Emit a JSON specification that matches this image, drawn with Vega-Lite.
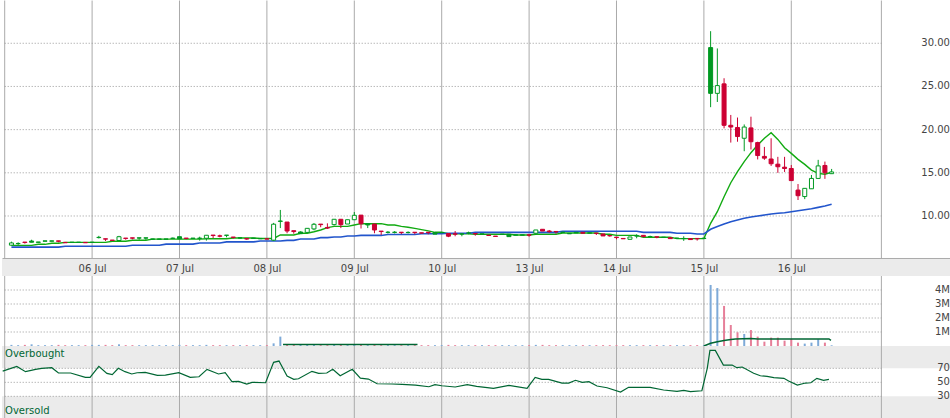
{
  "$schema": "https://vega.github.io/schema/vega-lite/v6.json",
  "padding": 0,
  "spacing": 0,
  "bounds": "flush",
  "background": "white",
  "config": {"view": {"stroke": null}, "font": "DejaVu Sans", "scale": {"continuousPadding": 0}},
  "datasets": {
    "cd": [
      {"t":1,"o":6.62,"h":7.03,"l":6.58,"c":6.88,"tr":"u","m1":6.6,"m2":6.4,"v":0.08},
      {"t":2,"o":6.8,"h":6.95,"l":6.65,"c":6.82,"tr":"u","m1":6.6,"m2":6.4,"v":0.06},
      {"t":3,"o":6.98,"h":6.98,"l":6.8,"c":6.93,"tr":"d","m1":6.6,"m2":6.4,"v":0.08},
      {"t":4,"o":7.1,"h":7.25,"l":6.96,"c":6.96,"tr":"u","m1":6.6,"m2":6.4,"v":0.12},
      {"t":5,"o":6.99,"h":6.99,"l":6.95,"c":6.95,"tr":"u","m1":6.72,"m2":6.4,"v":0.06},
      {"t":6,"o":7.12,"h":7.12,"l":7.08,"c":7.08,"tr":"u","m1":6.72,"m2":6.4,"v":0.06},
      {"t":7,"o":7.12,"h":7.12,"l":7.08,"c":7.08,"tr":"u","m1":6.84,"m2":6.4,"v":0.06},
      {"t":8,"o":7.12,"h":7.12,"l":6.95,"c":7.07,"tr":"d","m1":6.84,"m2":6.4,"v":0.08},
      {"t":9,"o":6.94,"h":6.94,"l":6.9,"c":6.9,"tr":"d","m1":6.95,"m2":6.5,"v":0.06},
      {"t":10,"o":6.97,"h":6.97,"l":6.93,"c":6.93,"tr":"u","m1":6.95,"m2":6.5,"v":0.06},
      {"t":11,"o":6.97,"h":6.97,"l":6.93,"c":6.93,"tr":"u","m1":6.95,"m2":6.5,"v":0.06},
      {"t":12,"o":6.94,"h":6.94,"l":6.9,"c":6.9,"tr":"d","m1":6.95,"m2":6.5,"v":0.06},
      {"t":13,"o":6.97,"h":6.97,"l":6.93,"c":6.93,"tr":"u","m1":6.95,"m2":6.5,"v":0.08},
      {"t":14,"o":7.5,"h":7.7,"l":7.4,"c":7.53,"tr":"u","m1":6.95,"m2":6.5,"v":0.08},
      {"t":15,"o":7.36,"h":7.36,"l":7.1,"c":7.32,"tr":"d","m1":6.95,"m2":6.5,"v":0.08},
      {"t":16,"o":7.21,"h":7.21,"l":7.17,"c":7.17,"tr":"d","m1":7.07,"m2":6.5,"v":0.06},
      {"t":17,"o":7.16,"h":7.7,"l":7.16,"c":7.6,"tr":"u","m1":7.07,"m2":6.5,"v":0.12},
      {"t":18,"o":7.44,"h":7.44,"l":7.25,"c":7.4,"tr":"d","m1":7.07,"m2":6.5,"v":0.06},
      {"t":19,"o":7.47,"h":7.47,"l":7.3,"c":7.43,"tr":"d","m1":7.19,"m2":6.62,"v":0.06},
      {"t":20,"o":7.47,"h":7.47,"l":7.25,"c":7.44,"tr":"u","m1":7.19,"m2":6.62,"v":0.06},
      {"t":21,"o":7.47,"h":7.47,"l":7.25,"c":7.44,"tr":"u","m1":7.19,"m2":6.62,"v":0.06},
      {"t":22,"o":7.34,"h":7.34,"l":7.3,"c":7.3,"tr":"u","m1":7.32,"m2":6.62,"v":0.06},
      {"t":23,"o":7.34,"h":7.34,"l":7.3,"c":7.3,"tr":"u","m1":7.32,"m2":6.62,"v":0.06},
      {"t":24,"o":7.34,"h":7.34,"l":7.3,"c":7.3,"tr":"u","m1":7.32,"m2":6.74,"v":0.06},
      {"t":25,"o":7.43,"h":7.5,"l":7.35,"c":7.41,"tr":"u","m1":7.32,"m2":6.74,"v":0.06},
      {"t":26,"o":7.6,"h":7.6,"l":7.36,"c":7.36,"tr":"u","m1":7.32,"m2":6.74,"v":0.08},
      {"t":27,"o":7.44,"h":7.44,"l":7.3,"c":7.4,"tr":"d","m1":7.32,"m2":6.74,"v":0.06},
      {"t":28,"o":7.44,"h":7.44,"l":7.4,"c":7.4,"tr":"u","m1":7.32,"m2":6.74,"v":0.06},
      {"t":29,"o":7.43,"h":7.6,"l":7.15,"c":7.41,"tr":"u","m1":7.32,"m2":6.88,"v":0.06},
      {"t":30,"o":7.42,"h":7.77,"l":7.15,"c":7.77,"tr":"u","m1":7.37,"m2":6.88,"v":0.08},
      {"t":31,"o":7.79,"h":7.79,"l":7.45,"c":7.74,"tr":"d","m1":7.37,"m2":6.88,"v":0.06},
      {"t":32,"o":7.7,"h":7.84,"l":7.53,"c":7.66,"tr":"d","m1":7.37,"m2":6.88,"v":0.06},
      {"t":33,"o":7.78,"h":7.78,"l":7.53,"c":7.76,"tr":"u","m1":7.37,"m2":7.0,"v":0.06},
      {"t":34,"o":7.56,"h":7.56,"l":7.38,"c":7.52,"tr":"d","m1":7.45,"m2":7.0,"v":0.06},
      {"t":35,"o":7.47,"h":7.56,"l":7.35,"c":7.45,"tr":"u","m1":7.45,"m2":7.0,"v":0.06},
      {"t":36,"o":7.4,"h":7.4,"l":7.25,"c":7.33,"tr":"d","m1":7.45,"m2":7.0,"v":0.06},
      {"t":37,"o":7.44,"h":7.44,"l":7.4,"c":7.4,"tr":"u","m1":7.45,"m2":7.0,"v":0.06},
      {"t":38,"o":7.4,"h":7.4,"l":7.37,"c":7.37,"tr":"u","m1":7.4,"m2":7.1,"v":0.06},
      {"t":39,"o":7.36,"h":7.36,"l":7.33,"c":7.33,"tr":"d","m1":7.4,"m2":7.1,"v":0.06},
      {"t":40,"o":7.2,"h":9.2,"l":7.1,"c":9.05,"tr":"u","m1":7.4,"m2":7.1,"v":0.19},
      {"t":41,"o":9.42,"h":10.7,"l":8.6,"c":9.38,"tr":"u","m1":7.8,"m2":7.1,"v":0.67},
      {"t":42,"o":9.3,"h":9.3,"l":8.0,"c":8.26,"tr":"d","m1":7.8,"m2":7.18,"v":0.1},
      {"t":43,"o":8.3,"h":8.3,"l":7.95,"c":8.2,"tr":"d","m1":7.8,"m2":7.18,"v":0.08},
      {"t":44,"o":8.15,"h":8.22,"l":7.95,"c":7.95,"tr":"u","m1":8.0,"m2":7.34,"v":0.08},
      {"t":45,"o":8.1,"h":8.6,"l":8.1,"c":8.57,"tr":"u","m1":8.0,"m2":7.34,"v":0.08},
      {"t":46,"o":8.5,"h":9.19,"l":8.35,"c":9.04,"tr":"u","m1":8.18,"m2":7.34,"v":0.08},
      {"t":47,"o":9.06,"h":9.06,"l":8.7,"c":9.0,"tr":"d","m1":8.38,"m2":7.49,"v":0.06},
      {"t":48,"o":8.67,"h":9.15,"l":8.5,"c":8.6,"tr":"d","m1":8.65,"m2":7.49,"v":0.06},
      {"t":49,"o":9.0,"h":9.62,"l":8.9,"c":9.62,"tr":"u","m1":8.8,"m2":7.57,"v":0.08},
      {"t":50,"o":9.62,"h":9.62,"l":8.6,"c":9.0,"tr":"d","m1":8.8,"m2":7.57,"v":0.08},
      {"t":51,"o":9.07,"h":9.57,"l":9.07,"c":9.57,"tr":"u","m1":8.8,"m2":7.69,"v":0.06},
      {"t":52,"o":9.57,"h":10.46,"l":9.57,"c":10.08,"tr":"u","m1":8.96,"m2":7.69,"v":0.1},
      {"t":53,"o":10.1,"h":10.12,"l":8.55,"c":9.1,"tr":"d","m1":9.11,"m2":7.75,"v":0.08},
      {"t":54,"o":9.11,"h":9.11,"l":8.6,"c":8.96,"tr":"u","m1":9.11,"m2":7.75,"v":0.06},
      {"t":55,"o":9.07,"h":9.07,"l":8.0,"c":8.38,"tr":"d","m1":9.11,"m2":7.75,"v":0.08},
      {"t":56,"o":8.25,"h":8.25,"l":7.8,"c":8.2,"tr":"d","m1":9.11,"m2":7.75,"v":0.06},
      {"t":57,"o":8.12,"h":8.25,"l":7.98,"c":8.1,"tr":"u","m1":8.96,"m2":7.85,"v":0.06},
      {"t":58,"o":8.12,"h":8.25,"l":7.98,"c":8.1,"tr":"u","m1":8.96,"m2":7.85,"v":0.06},
      {"t":59,"o":8.12,"h":8.12,"l":7.9,"c":8.08,"tr":"d","m1":8.8,"m2":7.85,"v":0.06},
      {"t":60,"o":8.1,"h":8.22,"l":7.98,"c":8.08,"tr":"u","m1":8.69,"m2":7.85,"v":0.06},
      {"t":61,"o":8.12,"h":8.12,"l":7.88,"c":8.08,"tr":"d","m1":8.57,"m2":7.85,"v":0.06},
      {"t":62,"o":8.05,"h":8.05,"l":8.02,"c":8.02,"tr":"d","m1":8.42,"m2":7.95,"v":0.06},
      {"t":63,"o":8.12,"h":8.12,"l":7.88,"c":8.08,"tr":"d","m1":8.27,"m2":7.95,"v":0.06},
      {"t":64,"o":8.08,"h":8.1,"l":7.9,"c":7.9,"tr":"u","m1":8.11,"m2":7.95,"v":0.06},
      {"t":65,"o":8.09,"h":8.09,"l":8.06,"c":8.06,"tr":"u","m1":8.11,"m2":7.95,"v":0.06},
      {"t":66,"o":7.97,"h":7.97,"l":7.55,"c":7.66,"tr":"d","m1":7.95,"m2":8.0,"v":0.08},
      {"t":67,"o":7.93,"h":8.26,"l":7.65,"c":7.89,"tr":"d","m1":7.95,"m2":8.0,"v":0.06},
      {"t":68,"o":7.93,"h":7.93,"l":7.65,"c":7.91,"tr":"u","m1":7.95,"m2":8.0,"v":0.06},
      {"t":69,"o":8.04,"h":8.19,"l":7.88,"c":8.02,"tr":"u","m1":7.95,"m2":8.0,"v":0.06},
      {"t":70,"o":7.97,"h":7.97,"l":7.72,"c":7.93,"tr":"d","m1":7.88,"m2":8.1,"v":0.06},
      {"t":71,"o":7.93,"h":7.93,"l":7.9,"c":7.9,"tr":"u","m1":7.88,"m2":8.1,"v":0.06},
      {"t":72,"o":7.78,"h":7.78,"l":7.74,"c":7.74,"tr":"d","m1":7.88,"m2":8.1,"v":0.06},
      {"t":73,"o":7.67,"h":7.67,"l":7.63,"c":7.63,"tr":"d","m1":7.88,"m2":8.1,"v":0.06},
      {"t":74,"o":7.9,"h":7.9,"l":7.86,"c":7.86,"tr":"u","m1":7.88,"m2":8.1,"v":0.06},
      {"t":75,"o":7.88,"h":7.9,"l":7.61,"c":7.61,"tr":"u","m1":7.88,"m2":8.1,"v":0.06},
      {"t":76,"o":7.82,"h":7.82,"l":7.78,"c":7.78,"tr":"u","m1":7.8,"m2":8.1,"v":0.06},
      {"t":77,"o":7.82,"h":7.82,"l":7.78,"c":7.78,"tr":"u","m1":7.8,"m2":8.1,"v":0.06},
      {"t":78,"o":7.82,"h":7.82,"l":7.6,"c":7.78,"tr":"d","m1":7.8,"m2":8.1,"v":0.06},
      {"t":79,"o":8.0,"h":8.38,"l":7.8,"c":8.38,"tr":"u","m1":7.88,"m2":8.1,"v":0.08},
      {"t":80,"o":8.46,"h":8.46,"l":8.26,"c":8.26,"tr":"d","m1":7.88,"m2":8.1,"v":0.08},
      {"t":81,"o":8.26,"h":8.38,"l":8.07,"c":8.19,"tr":"d","m1":7.88,"m2":8.1,"v":0.06},
      {"t":82,"o":8.21,"h":8.21,"l":7.96,"c":8.17,"tr":"d","m1":7.88,"m2":8.1,"v":0.06},
      {"t":83,"o":8.12,"h":8.12,"l":8.1,"c":8.1,"tr":"u","m1":8.03,"m2":8.23,"v":0.06},
      {"t":84,"o":7.98,"h":7.98,"l":7.94,"c":7.94,"tr":"u","m1":8.03,"m2":8.23,"v":0.06},
      {"t":85,"o":8.11,"h":8.11,"l":8.04,"c":8.04,"tr":"u","m1":8.03,"m2":8.23,"v":0.06},
      {"t":86,"o":8.11,"h":8.11,"l":8.0,"c":8.0,"tr":"d","m1":8.03,"m2":8.23,"v":0.06},
      {"t":87,"o":8.05,"h":8.05,"l":8.01,"c":8.01,"tr":"u","m1":8.03,"m2":8.23,"v":0.06},
      {"t":88,"o":8.02,"h":8.02,"l":7.8,"c":7.98,"tr":"d","m1":8.03,"m2":8.23,"v":0.06},
      {"t":89,"o":7.92,"h":7.92,"l":7.69,"c":7.69,"tr":"d","m1":7.88,"m2":8.23,"v":0.06},
      {"t":90,"o":7.74,"h":7.74,"l":7.6,"c":7.7,"tr":"d","m1":7.88,"m2":8.23,"v":0.06},
      {"t":91,"o":7.55,"h":7.55,"l":7.3,"c":7.5,"tr":"d","m1":7.76,"m2":8.23,"v":0.06},
      {"t":92,"o":7.4,"h":7.4,"l":7.36,"c":7.36,"tr":"d","m1":7.76,"m2":8.23,"v":0.06},
      {"t":93,"o":7.3,"h":7.57,"l":7.3,"c":7.57,"tr":"u","m1":7.76,"m2":8.23,"v":0.06},
      {"t":94,"o":7.7,"h":7.88,"l":7.42,"c":7.68,"tr":"u","m1":7.76,"m2":8.23,"v":0.06},
      {"t":95,"o":7.76,"h":7.76,"l":7.61,"c":7.61,"tr":"d","m1":7.53,"m2":8.1,"v":0.06},
      {"t":96,"o":7.62,"h":7.72,"l":7.5,"c":7.6,"tr":"u","m1":7.53,"m2":8.1,"v":0.06},
      {"t":97,"o":7.59,"h":7.59,"l":7.42,"c":7.55,"tr":"d","m1":7.53,"m2":8.1,"v":0.06},
      {"t":98,"o":7.55,"h":7.55,"l":7.51,"c":7.51,"tr":"u","m1":7.53,"m2":8.1,"v":0.06},
      {"t":99,"o":7.49,"h":7.49,"l":7.38,"c":7.38,"tr":"d","m1":7.53,"m2":8.1,"v":0.06},
      {"t":100,"o":7.43,"h":7.5,"l":7.35,"c":7.41,"tr":"u","m1":7.38,"m2":8.0,"v":0.06},
      {"t":101,"o":7.4,"h":7.65,"l":7.12,"c":7.38,"tr":"u","m1":7.38,"m2":8.0,"v":0.06},
      {"t":102,"o":7.38,"h":7.38,"l":7.27,"c":7.27,"tr":"d","m1":7.38,"m2":8.0,"v":0.06},
      {"t":103,"o":7.4,"h":7.4,"l":7.15,"c":7.36,"tr":"d","m1":7.38,"m2":7.92,"v":0.06},
      {"t":104,"o":7.43,"h":7.43,"l":7.39,"c":7.39,"tr":"u","m1":7.38,"m2":7.92,"v":0.06},
      {"t":105,"o":29.5,"h":31.4,"l":22.6,"c":24.2,"tr":"u","m1":9.15,"m2":8.46,"v":4.36},
      {"t":106,"o":24.2,"h":29.4,"l":23.2,"c":25.1,"tr":"u","m1":10.5,"m2":8.77,"v":4.14},
      {"t":107,"o":25.3,"h":25.95,"l":20.15,"c":20.5,"tr":"d","m1":12.23,"m2":9.07,"v":2.86},
      {"t":108,"o":20.5,"h":21.7,"l":18.5,"c":20.3,"tr":"d","m1":13.85,"m2":9.34,"v":1.5},
      {"t":109,"o":20.25,"h":21.4,"l":18.6,"c":19.2,"tr":"d","m1":15.13,"m2":9.54,"v":0.98},
      {"t":110,"o":19.0,"h":20.6,"l":17.5,"c":20.3,"tr":"u","m1":16.29,"m2":9.73,"v":0.86},
      {"t":111,"o":20.2,"h":21.5,"l":17.7,"c":18.6,"tr":"d","m1":17.33,"m2":9.88,"v":1.14},
      {"t":112,"o":18.5,"h":18.6,"l":16.55,"c":17.0,"tr":"d","m1":18.22,"m2":10.0,"v":0.67},
      {"t":113,"o":16.9,"h":18.0,"l":16.5,"c":16.7,"tr":"d","m1":19.0,"m2":10.11,"v":0.31},
      {"t":114,"o":16.6,"h":19.0,"l":15.8,"c":16.05,"tr":"d","m1":19.64,"m2":10.23,"v":0.6},
      {"t":115,"o":16.0,"h":16.85,"l":15.0,"c":15.7,"tr":"d","m1":18.87,"m2":10.31,"v":0.6},
      {"t":116,"o":15.65,"h":16.85,"l":15.1,"c":15.5,"tr":"d","m1":17.9,"m2":10.38,"v":0.38},
      {"t":117,"o":15.5,"h":15.9,"l":14.05,"c":14.1,"tr":"d","m1":17.25,"m2":10.5,"v":0.5},
      {"t":118,"o":13.0,"h":13.7,"l":11.85,"c":12.35,"tr":"d","m1":16.56,"m2":10.61,"v":0.24},
      {"t":119,"o":12.25,"h":13.2,"l":11.95,"c":13.2,"tr":"u","m1":15.98,"m2":10.73,"v":0.17},
      {"t":120,"o":13.15,"h":14.75,"l":13.15,"c":14.35,"tr":"u","m1":15.32,"m2":10.84,"v":0.24},
      {"t":121,"o":14.35,"h":16.5,"l":14.35,"c":15.8,"tr":"u","m1":14.94,"m2":11.0,"v":0.48},
      {"t":122,"o":15.85,"h":16.3,"l":14.3,"c":15.0,"tr":"d","m1":14.83,"m2":11.15,"v":0.24},
      {"t":123,"o":14.9,"h":15.45,"l":14.9,"c":15.1,"tr":"u","m1":15.06,"m2":11.35,"v":0.05}
    ],
    "rsi": [
      {"t":-0.3,"r":66},{"t":1.8,"r":72.8},{"t":3.1,"r":65.2},{"t":4.6,"r":68.5},{"t":5.5,"r":70},{"t":7,"r":70.9},{"t":8,"r":63.3},{"t":9.8,"r":63.3},{"t":12,"r":57.1},{"t":12.7,"r":57.1},
      {"t":14,"r":72.8},{"t":15.2,"r":62.8},{"t":16,"r":60.9},{"t":16.9,"r":70},{"t":17.9,"r":65.2},{"t":18.9,"r":61.9},{"t":19.7,"r":63.7},{"t":20.9,"r":64.3},{"t":22.7,"r":60},{"t":23.9,"r":60.4},
      {"t":25.9,"r":63.7},{"t":27.6,"r":57.1},{"t":28.9,"r":58},{"t":30.1,"r":68.5},{"t":31.8,"r":61.9},{"t":32.8,"r":63.7},{"t":33.8,"r":50.9},{"t":34.8,"r":51.4},{"t":36,"r":47.6},{"t":36.8,"r":50},
      {"t":38.8,"r":49.4},{"t":40,"r":78.6},{"t":40.8,"r":80.4},{"t":42,"r":59},{"t":43,"r":54.3},{"t":43.7,"r":55.1},{"t":45.7,"r":65.7},{"t":46.7,"r":62.9},{"t":47.9,"r":63.3},{"t":48.8,"r":68.6},
      {"t":49.9,"r":59.4},{"t":51.7,"r":68.6},{"t":52.9,"r":56.1},{"t":54.1,"r":54.7},{"t":55.4,"r":48},{"t":57.6,"r":47.6},{"t":59.1,"r":47.1},{"t":61.1,"r":46.1},{"t":63.1,"r":43.7},{"t":64,"r":46.6},
      {"t":65,"r":45.1},{"t":67,"r":43.3},{"t":68.8,"r":46.6},{"t":70.2,"r":44.3},{"t":72.7,"r":41.4},{"t":75,"r":45.7},{"t":77.7,"r":41.4},{"t":78.9,"r":57.1},{"t":79.9,"r":54.3},{"t":80.9,"r":54.3},
      {"t":82.9,"r":49},{"t":83.9,"r":49},{"t":84.9,"r":52.9},{"t":85.9,"r":50},{"t":86.9,"r":50.9},{"t":88.1,"r":44.7},{"t":89.6,"r":42.3},{"t":91.6,"r":36.1},{"t":92.8,"r":42.9},{"t":96,"r":42.9},
      {"t":98,"r":39},{"t":100,"r":37.1},{"t":101,"r":38.6},{"t":102,"r":36.6},{"t":103.7,"r":38},{"t":104.5,"r":70},{"t":104.9,"r":95.7},{"t":105.7,"r":95.7},{"t":106.9,"r":74.7},{"t":108.2,"r":74.7},
      {"t":108.9,"r":70.9},{"t":109.7,"r":71.9},{"t":111.4,"r":62.9},{"t":112.4,"r":59.4},{"t":113.4,"r":58.6},{"t":114.4,"r":56.6},{"t":115.9,"r":55.7},{"t":116.6,"r":51.9},{"t":117.9,"r":46.1},{"t":119.1,"r":49},
      {"t":119.9,"r":49.4},{"t":120.8,"r":55.7},{"t":121.8,"r":52.9},{"t":122.6,"r":54.3}
    ],
    "vma": [
      {"s":"a","t":41.4,"m":0.11},{"s":"a","t":61.4,"m":0.11},
      {"s":"b","t":104,"m":0.0},{"s":"b","t":105,"m":0.19},{"s":"b","t":106,"m":0.31},{"s":"b","t":107,"m":0.4},{"s":"b","t":108,"m":0.47},{"s":"b","t":108.7,"m":0.5},{"s":"b","t":111,"m":0.53},{"s":"b","t":112,"m":0.5},{"s":"b","t":122.6,"m":0.5},{"s":"b","t":122.9,"m":0.4}
    ],
    "vg": [{"t":0},{"t":13},{"t":26},{"t":39},{"t":52},{"t":65},{"t":78},{"t":91},{"t":104},{"t":117},{"t":130.4}]
  },
  "vconcat": [
    {
      "width": 950, "height": 259,
      "layer": [
        {"data": {"name": "vg"}, "mark": {"type": "rule", "color": "#aaaaaa", "strokeWidth": 1},
         "encoding": {"x": {"field": "t", "type": "quantitative", "scale": {"domain": [-0.4016, 140.904], "nice": false, "zero": false, "padding": 0}, "axis": null},
                      "y": {"datum": 34.95, "type": "quantitative", "scale": {"domain": [5.02, 35.01], "nice": false, "zero": false, "padding": 0}, "axis": null},
                      "y2": {"datum": 5.02}}},
        {"data": {"values": [{"p":10},{"p":15},{"p":20},{"p":25},{"p":30}]}, "mark": {"type": "rule", "color": "#999999", "strokeWidth": 1, "strokeDash": [1, 2]},
         "encoding": {
           "y": {"field": "p", "type": "quantitative", "scale": {"domain": [5.02, 35.01], "nice": false, "zero": false, "padding": 0}, "axis": null},
           "x": {"datum": 0, "type": "quantitative", "scale": {"domain": [-0.4016, 140.904], "nice": false, "zero": false, "padding": 0}, "axis": null},
           "x2": {"datum": 130.4}}},
        {"data": {"values": [{}]}, "mark": {"type": "rule", "color": "#aaaaaa", "strokeWidth": 1},
         "encoding": {
           "y": {"datum": 5.078, "type": "quantitative", "scale": {"domain": [5.02, 35.01], "nice": false, "zero": false, "padding": 0}, "axis": null},
           "x": {"datum": -0.3272, "type": "quantitative", "scale": {"domain": [-0.4016, 140.904], "nice": false, "zero": false, "padding": 0}, "axis": null},
           "x2": {"datum": 140.8296}}},
        {"data": {"values": [{"p":10},{"p":15},{"p":20},{"p":25},{"p":30}]}, "mark": {"type": "text", "align": "right", "baseline": "middle", "color": "#444444", "fontSize": 10, "font": "DejaVu Sans"},
         "encoding": {
           "y": {"field": "p", "type": "quantitative", "scale": {"domain": [5.02, 35.01], "nice": false, "zero": false, "padding": 0}, "axis": null},
           "x": {"datum": 140.6, "type": "quantitative", "scale": {"domain": [-0.4016, 140.904], "nice": false, "zero": false, "padding": 0}, "axis": null},
           "text": {"field": "p", "type": "quantitative", "format": ".2f"}}},
        {"data": {"name": "cd"}, "mark": {"type": "line", "color": "#11aa11", "strokeWidth": 1.4},
         "encoding": {"x": {"field": "t", "type": "quantitative", "scale": {"domain": [-0.4016, 140.904], "nice": false, "zero": false, "padding": 0}, "axis": null},
                      "y": {"field": "m1", "type": "quantitative", "scale": {"domain": [5.02, 35.01], "nice": false, "zero": false, "padding": 0}, "axis": null}}},
        {"data": {"name": "cd"}, "mark": {"type": "line", "color": "#2255cc", "strokeWidth": 1.6},
         "encoding": {"x": {"field": "t", "type": "quantitative", "scale": {"domain": [-0.4016, 140.904], "nice": false, "zero": false, "padding": 0}, "axis": null},
                      "y": {"field": "m2", "type": "quantitative", "scale": {"domain": [5.02, 35.01], "nice": false, "zero": false, "padding": 0}, "axis": null}}},
        {"data": {"name": "cd"}, "mark": {"type": "rule", "strokeWidth": 1},
         "encoding": {"x": {"field": "t", "type": "quantitative", "scale": {"domain": [-0.4016, 140.904], "nice": false, "zero": false, "padding": 0}, "axis": null},
                      "y": {"field": "l", "type": "quantitative", "scale": {"domain": [5.02, 35.01], "nice": false, "zero": false, "padding": 0}, "axis": null},
                      "y2": {"field": "h"},
                      "color": {"condition": {"test": "datum.tr == 'u'", "value": "#009922"}, "value": "#cc0033"}}},
        {"data": {"name": "cd"}, "mark": {"type": "bar", "width": 4, "strokeWidth": 1, "orient": "vertical"},
         "encoding": {"x": {"field": "t", "type": "quantitative", "scale": {"domain": [-0.4016, 140.904], "nice": false, "zero": false, "padding": 0}, "axis": null},
                      "y": {"field": "o", "type": "quantitative", "scale": {"domain": [5.02, 35.01], "nice": false, "zero": false, "padding": 0}, "axis": null},
                      "y2": {"field": "c"},
                      "fill": {"condition": [{"test": "datum.c > datum.o", "value": "#ffffff"}, {"test": "datum.tr == 'u'", "value": "#009922"}], "value": "#cc0033"},
                      "stroke": {"condition": {"test": "datum.tr == 'u'", "value": "#009922"}, "value": "#cc0033"}}}
      ]
    },
    {
      "width": 950, "height": 17,
      "view": {"fill": "#ebebeb", "stroke": null},
      "data": {"values": [{"t": 130.4}]},
      "mark": {"type": "rule", "opacity": 0},
      "encoding": {
        "x": {"field": "t", "type": "quantitative", "scale": {"domain": [-0.4016, 140.904], "nice": false, "zero": false, "padding": 0},
              "axis": {"orient": "bottom", "offset": -17, "values": [13,26,39,52,65,78,91,104,117],
                       "labelExpr": "['06 Jul','07 Jul','08 Jul','09 Jul','10 Jul','13 Jul','14 Jul','15 Jul','16 Jul'][round(datum.value/13)-1]",
                       "ticks": false, "grid": false, "domain": false,
                       "labelPadding": 4, "labelBaseline": "top", "labelFlush": false, "labelOverlap": false, "title": null,
                       "labelColor": "#444444", "labelFontSize": 10, "labelFont": "DejaVu Sans"}}
      }
    },
    {
      "width": 950, "height": 70,
      "layer": [
        {"data": {"name": "vg"}, "mark": {"type": "rule", "color": "#aaaaaa", "strokeWidth": 1},
         "encoding": {"x": {"field": "t", "type": "quantitative", "scale": {"domain": [-0.4016, 140.904], "nice": false, "zero": false, "padding": 0}, "axis": null}}},
        {"data": {"values": [{"p":1,"lab":"1M"},{"p":2,"lab":"2M"},{"p":3,"lab":"3M"},{"p":4,"lab":"4M"}]}, "mark": {"type": "rule", "color": "#999999", "strokeWidth": 1, "strokeDash": [1, 2]},
         "encoding": {
           "y": {"field": "p", "type": "quantitative", "scale": {"domain": [0, 5], "nice": false, "zero": false, "padding": 0}, "axis": null},
           "x": {"datum": 0, "type": "quantitative", "scale": {"domain": [-0.4016, 140.904], "nice": false, "zero": false, "padding": 0}, "axis": null},
           "x2": {"datum": 130.4}}},
        {"data": {"values": [{"p":1,"lab":"1M"},{"p":2,"lab":"2M"},{"p":3,"lab":"3M"},{"p":4,"lab":"4M"}]}, "mark": {"type": "text", "align": "right", "baseline": "middle", "color": "#444444", "fontSize": 10, "font": "DejaVu Sans"},
         "encoding": {
           "y": {"field": "p", "type": "quantitative", "scale": {"domain": [0, 5], "nice": false, "zero": false, "padding": 0}, "axis": null},
           "x": {"datum": 140.6, "type": "quantitative", "scale": {"domain": [-0.4016, 140.904], "nice": false, "zero": false, "padding": 0}, "axis": null},
           "text": {"field": "lab", "type": "nominal"}}},
        {"data": {"name": "cd"}, "mark": {"type": "bar", "width": 2, "orient": "vertical"},
         "encoding": {"x": {"field": "t", "type": "quantitative", "scale": {"domain": [-0.4016, 140.904], "nice": false, "zero": false, "padding": 0}, "axis": null},
                      "y": {"field": "v", "type": "quantitative", "scale": {"domain": [0, 5], "nice": false, "zero": false, "padding": 0}, "axis": null},
                      "y2": {"datum": 0},
                      "color": {"condition": {"test": "datum.tr == 'u'", "value": "#7eaad8"}, "value": "#e67f99"}}},
        {"data": {"name": "vma"}, "mark": {"type": "line", "color": "#006633", "strokeWidth": 1.5},
         "encoding": {"x": {"field": "t", "type": "quantitative", "scale": {"domain": [-0.4016, 140.904], "nice": false, "zero": false, "padding": 0}, "axis": null},
                      "y": {"field": "m", "type": "quantitative", "scale": {"domain": [0, 5], "nice": false, "zero": false, "padding": 0}, "axis": null},
                      "detail": {"field": "s", "type": "nominal"}}}
      ]
    },
    {
      "width": 950, "height": 72,
      "layer": [
        {"data": {"values": [{"a": 70, "b": 101.9}, {"a": -0.96, "b": 30}]}, "mark": {"type": "rect", "color": "#ebebeb"},
         "encoding": {"x": {"datum": -0.4016, "type": "quantitative", "scale": {"domain": [-0.4016, 140.904], "nice": false, "zero": false, "padding": 0}, "axis": null},
                      "x2": {"datum": 140.904},
                      "y": {"field": "a", "type": "quantitative", "scale": {"domain": [-0.96, 101.9], "nice": false, "zero": false, "padding": 0}, "axis": null},
                      "y2": {"field": "b"}}},
        {"data": {"name": "vg"}, "mark": {"type": "rule", "color": "#aaaaaa", "strokeWidth": 1},
         "encoding": {"x": {"field": "t", "type": "quantitative", "scale": {"domain": [-0.4016, 140.904], "nice": false, "zero": false, "padding": 0}, "axis": null}}},
        {"data": {"values": [{"p":30},{"p":50},{"p":70}]}, "mark": {"type": "rule", "color": "#999999", "strokeWidth": 1, "strokeDash": [1, 2]},
         "encoding": {
           "y": {"field": "p", "type": "quantitative", "scale": {"domain": [-0.96, 101.9], "nice": false, "zero": false, "padding": 0}, "axis": null},
           "x": {"datum": 0, "type": "quantitative", "scale": {"domain": [-0.4016, 140.904], "nice": false, "zero": false, "padding": 0}, "axis": null},
           "x2": {"datum": 130.4}}},
        {"data": {"values": [{"p":30},{"p":50},{"p":70}]}, "mark": {"type": "text", "align": "right", "baseline": "middle", "color": "#444444", "fontSize": 10, "font": "DejaVu Sans"},
         "encoding": {
           "y": {"field": "p", "type": "quantitative", "scale": {"domain": [-0.96, 101.9], "nice": false, "zero": false, "padding": 0}, "axis": null},
           "x": {"datum": 140.6, "type": "quantitative", "scale": {"domain": [-0.4016, 140.904], "nice": false, "zero": false, "padding": 0}, "axis": null},
           "text": {"field": "p", "type": "quantitative", "format": "d"}}},
        {"data": {"name": "rsi"}, "mark": {"type": "line", "color": "#006633", "strokeWidth": 1.2},
         "encoding": {"x": {"field": "t", "type": "quantitative", "scale": {"domain": [-0.4016, 140.904], "nice": false, "zero": false, "padding": 0}, "axis": null},
                      "y": {"field": "r", "type": "quantitative", "scale": {"domain": [-0.96, 101.9], "nice": false, "zero": false, "padding": 0}, "axis": null}}},
        {"data": {"values": [{}]}, "mark": {"type": "text", "text": "Overbought", "align": "left", "baseline": "middle", "color": "#006633", "fontSize": 10, "font": "DejaVu Sans"},
         "encoding": {"x": {"datum": 0.05, "type": "quantitative", "scale": {"domain": [-0.4016, 140.904], "nice": false, "zero": false, "padding": 0}, "axis": null},
                      "y": {"datum": 90.5, "type": "quantitative", "scale": {"domain": [-0.96, 101.9], "nice": false, "zero": false, "padding": 0}, "axis": null}}},
        {"data": {"values": [{}]}, "mark": {"type": "text", "text": "Oversold", "align": "left", "baseline": "middle", "color": "#006633", "fontSize": 10, "font": "DejaVu Sans"},
         "encoding": {"x": {"datum": 0.05, "type": "quantitative", "scale": {"domain": [-0.4016, 140.904], "nice": false, "zero": false, "padding": 0}, "axis": null},
                      "y": {"datum": 9, "type": "quantitative", "scale": {"domain": [-0.96, 101.9], "nice": false, "zero": false, "padding": 0}, "axis": null}}}
      ]
    }
  ]
}
